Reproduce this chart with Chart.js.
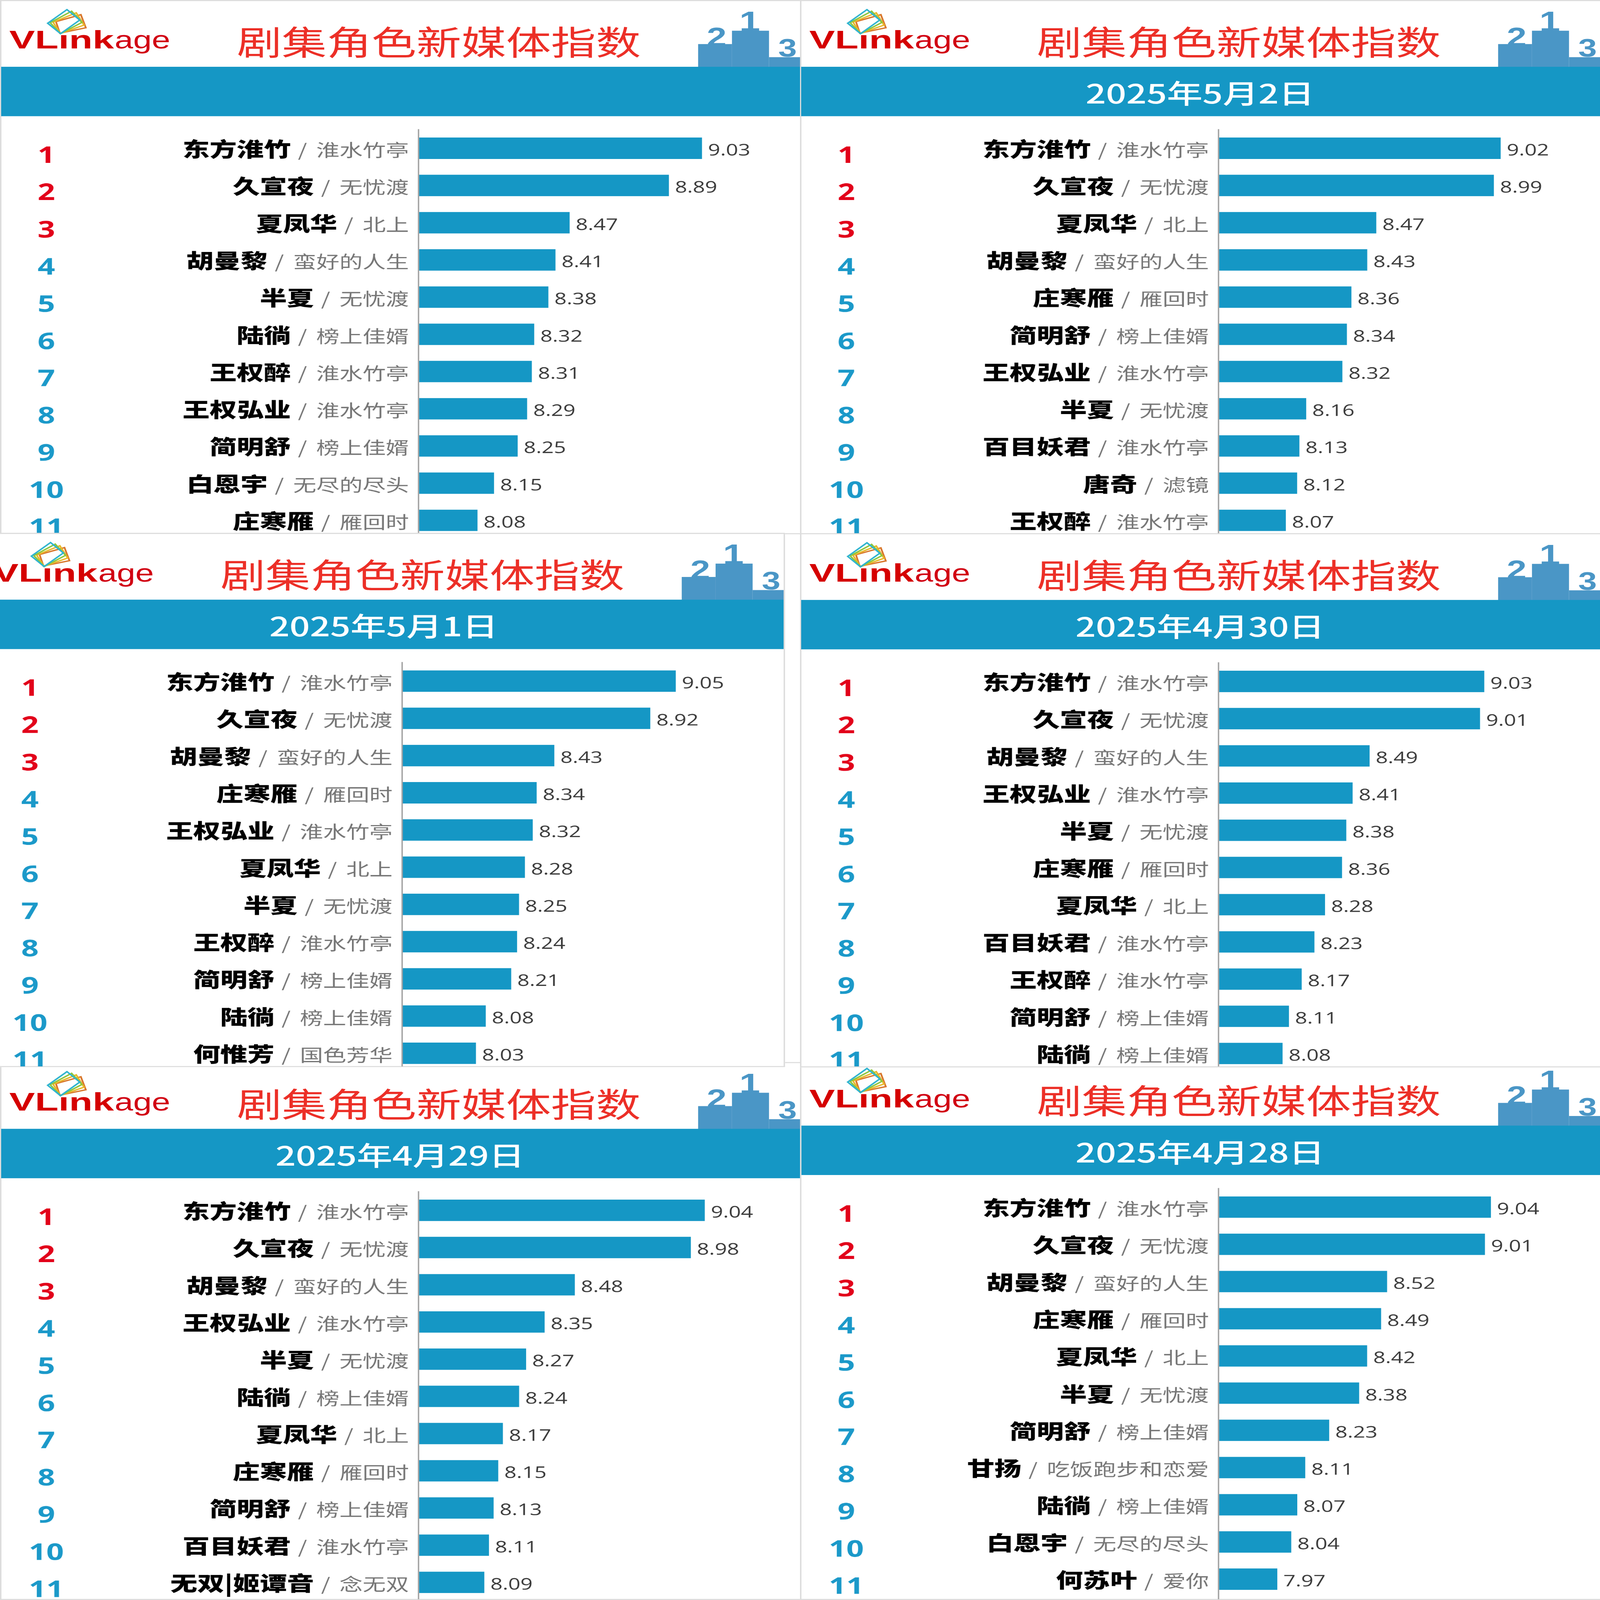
<!DOCTYPE html>
<html>
<head>
<meta charset="utf-8">
<script src="https://cdn.jsdelivr.net/npm/chart.js@4.4.1/dist/chart.umd.min.js"></script>
<style>
  html, body { margin: 0; padding: 0; background: #fff; overflow: hidden; }
  #stage { position: absolute; left: 0; top: 0; width: 4492px; height: 5990px; transform-origin: 0 0; background: #fff; }
  .panel { position: absolute; width: 2250px; box-sizing: border-box; border: 4px solid #dcdcdc; background: #fff; overflow: hidden; }
  .panel canvas { position: absolute; left: -4px; top: -4px; }
  .panel svg { position: absolute; left: -4px; top: -4px; }
</style>
</head>
<body>
<div id="stage"></div>
<script>
// ---------------- DATA ----------------
const dates = ['', '2025年5月2日', '2025年5月1日', '2025年4月30日', '2025年4月29日', '2025年4月28日'];

const p1Names  = ['东方淮竹', '久宣夜', '夏凤华', '胡曼黎', '半夏', '陆徜', '王权醉', '王权弘业', '简明舒', '白恩宇', '庄寒雁'];
const p1Dramas = ['淮水竹亭', '无忧渡', '北上', '蛮好的人生', '无忧渡', '榜上佳婿', '淮水竹亭', '淮水竹亭', '榜上佳婿', '无尽的尽头', '雁回时'];
const p1Values = [9.03, 8.89, 8.47, 8.41, 8.38, 8.32, 8.31, 8.29, 8.25, 8.15, 8.08];

const p2Names  = ['东方淮竹', '久宣夜', '夏凤华', '胡曼黎', '庄寒雁', '简明舒', '王权弘业', '半夏', '百目妖君', '唐奇', '王权醉'];
const p2Dramas = ['淮水竹亭', '无忧渡', '北上', '蛮好的人生', '雁回时', '榜上佳婿', '淮水竹亭', '无忧渡', '淮水竹亭', '滤镜', '淮水竹亭'];
const p2Values = [9.02, 8.99, 8.47, 8.43, 8.36, 8.34, 8.32, 8.16, 8.13, 8.12, 8.07];

const p3Names  = ['东方淮竹', '久宣夜', '胡曼黎', '庄寒雁', '王权弘业', '夏凤华', '半夏', '王权醉', '简明舒', '陆徜', '何惟芳'];
const p3Dramas = ['淮水竹亭', '无忧渡', '蛮好的人生', '雁回时', '淮水竹亭', '北上', '无忧渡', '淮水竹亭', '榜上佳婿', '榜上佳婿', '国色芳华'];
const p3Values = [9.05, 8.92, 8.43, 8.34, 8.32, 8.28, 8.25, 8.24, 8.21, 8.08, 8.03];

const p4Names  = ['东方淮竹', '久宣夜', '胡曼黎', '王权弘业', '半夏', '庄寒雁', '夏凤华', '百目妖君', '王权醉', '简明舒', '陆徜'];
const p4Dramas = ['淮水竹亭', '无忧渡', '蛮好的人生', '淮水竹亭', '无忧渡', '雁回时', '北上', '淮水竹亭', '淮水竹亭', '榜上佳婿', '榜上佳婿'];
const p4Values = [9.03, 9.01, 8.49, 8.41, 8.38, 8.36, 8.28, 8.23, 8.17, 8.11, 8.08];

const p5Names  = ['东方淮竹', '久宣夜', '胡曼黎', '王权弘业', '半夏', '陆徜', '夏凤华', '庄寒雁', '简明舒', '百目妖君', '无双|姬谭音'];
const p5Dramas = ['淮水竹亭', '无忧渡', '蛮好的人生', '淮水竹亭', '无忧渡', '榜上佳婿', '北上', '雁回时', '榜上佳婿', '淮水竹亭', '念无双'];
const p5Values = [9.04, 8.98, 8.48, 8.35, 8.27, 8.24, 8.17, 8.15, 8.13, 8.11, 8.09];

const p6Names  = ['东方淮竹', '久宣夜', '胡曼黎', '庄寒雁', '夏凤华', '半夏', '简明舒', '甘扬', '陆徜', '白恩宇', '何苏叶'];
const p6Dramas = ['淮水竹亭', '无忧渡', '蛮好的人生', '雁回时', '北上', '无忧渡', '榜上佳婿', '吃饭跑步和恋爱', '榜上佳婿', '无尽的尽头', '爱你'];
const p6Values = [9.04, 9.01, 8.52, 8.49, 8.42, 8.38, 8.23, 8.11, 8.07, 8.04, 7.97];

// value-axis ranges of each panel
const axisMin = [7.832, 7.774, 7.655, 7.780, 7.808, 7.6775];
const axisMax = [9.300, 9.308, 9.426, 9.414, 9.303, 9.415];

// ---------------- LAYOUT ----------------
const panelLeft   = [0, 2246, -46, 2246, 0, 2246];
const panelTop    = [0, 0, 1995, 1996, 3976, 3964];
const panelHeight = [2000, 2000, 2000, 2000, 2014, 2026];
const panelZ      = [1, 1, 3, 3, 2, 2];

const allNames  = [p1Names, p2Names, p3Names, p4Names, p5Names, p6Names];
const allDramas = [p1Dramas, p2Dramas, p3Dramas, p4Dramas, p5Dramas, p6Dramas];
const allValues = [p1Values, p2Values, p3Values, p4Values, p5Values, p6Values];

const BAR_BLUE = '#1597C5';
const W = 2246, H = 2100;
const AXIS_X = 1176, PLOT_TOP = 485.4, ROW = 139.3;

// fit the 4492x5990 design into whatever viewport the page gets
const stage = document.getElementById('stage');
const sx = window.innerWidth / 4492, sy = window.innerHeight / 5990;
stage.style.transform = `scale(${sx}, ${sy})`;

function headerSVG(date) {
  const ns = 'http://www.w3.org/2000/svg';
  return `
  <svg xmlns="${ns}" width="${W}" height="440" viewBox="0 0 ${W} 440">
    <g fill="none" stroke-width="5" stroke-linejoin="miter">
      <polygon points="157,81 227,55 241,104 168,124" stroke="#D9782D"/>
      <polygon points="149,83 214,48 236,94 169,125" stroke="#E8B82A"/>
      <polygon points="141,85 201,42 230,84 170,126" stroke="#8CC63F"/>
      <polygon points="134,87 188,36 224,75 170,126" stroke="#2FB4CF"/>
    </g>
    <text x="26" y="182" font-family="Liberation Sans, Arial, sans-serif" font-weight="bold" font-size="95" fill="#D50000" textLength="294" lengthAdjust="spacingAndGlyphs">VLınk</text>
    <text x="322" y="182" font-family="Liberation Sans, Arial, sans-serif" font-size="95" fill="#D10012" textLength="156" lengthAdjust="spacingAndGlyphs">age</text>
    <text x="1232" y="206" text-anchor="middle" font-family="Noto Sans CJK SC" font-size="126" fill="#EC2F27">剧集角色新媒体指数</text>
    <g fill="#4A96C6">
      <rect x="1960" y="165" width="95" height="86"/>
      <rect x="2055" y="115" width="104" height="136"/>
      <rect x="2159" y="214" width="95" height="37"/>
      <text x="2012" y="172" text-anchor="middle" font-family="Liberation Sans, Arial" font-weight="bold" font-size="100">2</text>
      <text x="2105" y="117" text-anchor="middle" font-family="Liberation Sans, Arial" font-weight="bold" font-size="105">1</text>
      <text x="2211" y="212" text-anchor="middle" font-family="Liberation Sans, Arial" font-weight="bold" font-size="94">3</text>
    </g>
    <rect x="0" y="250" width="${W}" height="185" fill="${BAR_BLUE}"/>
    <text x="1123" y="388" text-anchor="middle" font-family="Noto Sans CJK SC" font-weight="500" font-size="100" fill="#ffffff">${date}</text>
  </svg>`;
}

const rowLabels = {
  id: 'rowLabels',
  afterDatasetsDraw(chart, args, opts) {
    const { ctx, chartArea, scales } = chart;
    const y = scales.y;
    const meta = chart.getDatasetMeta(0);
    const dramas = opts.dramas;
    const values = chart.data.datasets[0].data;
    ctx.save();
    ctx.strokeStyle = '#a3a3a3';
    ctx.lineWidth = 4;
    ctx.beginPath();
    ctx.moveTo(chartArea.left - 1, chartArea.top - 2);
    ctx.lineTo(chartArea.left - 1, chartArea.bottom + 20);
    ctx.stroke();

    chart.data.labels.forEach((name, i) => {
      const cy = y.getPixelForValue(i);
      ctx.textBaseline = 'alphabetic';
      ctx.textAlign = 'center';
      ctx.font = 'bold 86px "Noto Sans", "Liberation Sans", sans-serif';
      ctx.fillStyle = i < 3 ? '#E2001A' : '#1B99C9';
      ctx.fillText(String(i + 1), 130, cy + 55);

      const rightX = chartArea.left - 28;
      ctx.textAlign = 'right';
      ctx.font = '65px "Noto Sans CJK SC"';
      ctx.fillStyle = '#767676';
      ctx.fillText(dramas[i], rightX, cy + 31);
      let x = rightX - ctx.measureText(dramas[i]).width - 26;
      ctx.fillText('/', x, cy + 31);
      x -= ctx.measureText('/').width + 20;
      ctx.font = '900 76px "Noto Sans CJK SC"';
      ctx.fillStyle = '#000000';
      ctx.fillText(name, x, cy + 32);

      const bar = meta.data[i];
      ctx.textAlign = 'left';
      ctx.font = '60px "Open Sans", "Noto Sans", sans-serif';
      ctx.fillStyle = '#3a3a3a';
      ctx.fillText(values[i].toFixed(2), bar.x + 17, cy + 27);
    });
    ctx.restore();
  }
};

for (let p = 0; p < 6; p++) {
  const panel = document.createElement('div');
  panel.className = 'panel';
  panel.style.left = panelLeft[p] + 'px';
  panel.style.top = panelTop[p] + 'px';
  panel.style.height = panelHeight[p] + 'px';
  panel.style.zIndex = panelZ[p];
  stage.appendChild(panel);

  const canvas = document.createElement('canvas');
  canvas.width = W; canvas.height = H;
  canvas.style.width = W + 'px'; canvas.style.height = H + 'px';
  panel.appendChild(canvas);

  panel.insertAdjacentHTML('beforeend', headerSVG(dates[p]));

  new Chart(canvas, {
    type: 'bar',
    data: {
      labels: allNames[p],
      datasets: [{
        data: allValues[p],
        backgroundColor: BAR_BLUE,
        borderWidth: 0,
        barPercentage: 0.574,
        categoryPercentage: 1.0
      }]
    },
    options: {
      indexAxis: 'y',
      responsive: false,
      animation: false,
      devicePixelRatio: 1,
      layout: {
        padding: {
          left: AXIS_X,
          right: W - 2150,
          top: PLOT_TOP,
          bottom: H - PLOT_TOP - ROW * 11
        }
      },
      plugins: {
        legend: { display: false },
        tooltip: { enabled: false },
        rowLabels: { dramas: allDramas[p] }
      },
      scales: {
        x: { display: false, min: axisMin[p], max: axisMax[p] },
        y: { display: false }
      }
    },
    plugins: [rowLabels]
  });
}
</script>
</body>
</html>
